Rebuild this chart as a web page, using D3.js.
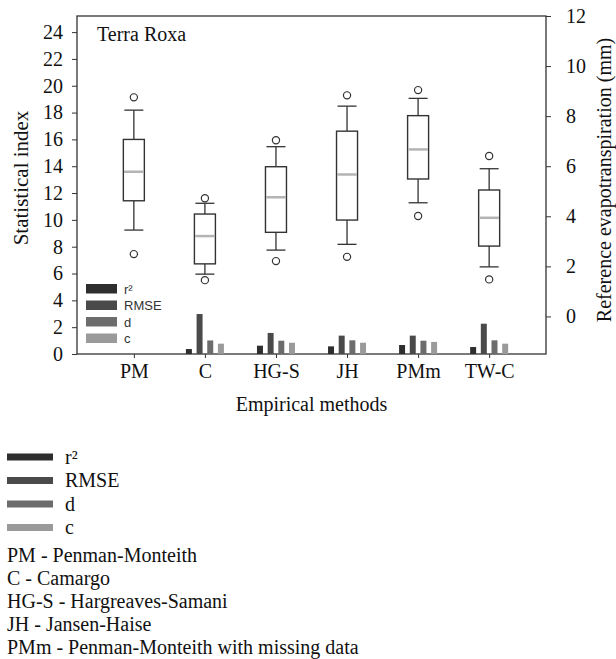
<!DOCTYPE html>
<html>
<head>
<meta charset="utf-8">
<script src="https://cdn.jsdelivr.net/npm/d3@7"></script>
<style>
  body { margin: 0; background: #fff; }
  svg text { font-family: "Liberation Serif", "Times New Roman", serif; fill: #111; }
  .axis path { display: none; }
  .axis line { stroke: #333; }
  .axis text { font-size: 20px; font-family: "Liberation Serif", serif; fill: #111; }
</style>
</head>
<body>
<div id="chart"></div>
<script>
// categories
var methods = ["PM", "C", "HG-S", "JH", "PMm", "TW-C"];
var methodNames = [
  "PM - Penman-Monteith",
  "C - Camargo",
  "HG-S - Hargreaves-Samani",
  "JH - Jansen-Haise",
  "PMm - Penman-Monteith with missing data"
];

// box plot values (reference evapotranspiration, mm)
var outlierLow  = [2.49, 1.45, 2.21, 2.38, 4.01, 1.48];
var whiskerLow  = [3.45, 1.69, 2.65, 2.88, 4.54, 1.98];
var q1          = [4.62, 2.10, 3.36, 3.85, 5.49, 2.81];
var median      = [5.78, 3.21, 4.76, 5.67, 6.67, 3.94];
var q3          = [7.07, 4.09, 5.98, 7.40, 8.02, 5.05];
var whiskerHigh = [8.24, 4.52, 6.78, 8.40, 8.71, 5.90];
var outlierHigh = [8.75, 4.72, 7.04, 8.83, 9.04, 6.41];

// statistical indices (PM is the reference, no bars)
var statKeys = ["r²", "RMSE", "d", "c"];
var r2   = [null, 0.37, 0.62, 0.57, 0.67, 0.52];
var rmse = [null, 2.98, 1.57, 1.37, 1.37, 2.26];
var dIdx = [null, 1.01, 0.99, 1.02, 0.99, 1.02];
var cIdx = [null, 0.77, 0.84, 0.84, 0.90, 0.77];
var statColors = ["#2e2e2e", "#4a4a4a", "#6c6c6c", "#9a9a9a"];

var leftTicks = d3.range(0, 25, 2);
var rightTicks = d3.range(0, 13, 2);

// svg container
var svgWidth = 616;
var svgHeight = 659;
var margin = { top: 16, right: 70, bottom: 305, left: 77 };
var width = svgWidth - margin.left - margin.right;
var height = 354 - margin.top;

var svg = d3.select("#chart")
  .append("svg")
  .attr("width", svgWidth)
  .attr("height", svgHeight);

var chartGroup = svg.append("g")
  .attr("transform", `translate(${margin.left}, ${margin.top})`);

// scales
var xScale = d3.scalePoint()
  .domain(methods)
  .range([0, width])
  .padding(0.8);

var yLeft = d3.scaleLinear().domain([0, 25.2]).range([height, 0]);
var yRight = d3.scaleLinear().domain([-1.5, 12]).range([height, 0]);

var barScale = d3.scaleBand()
  .domain(statKeys)
  .range([-19, 19])
  .paddingInner(0.44)
  .paddingOuter(0);

// axes
chartGroup.append("g")
  .attr("class", "axis")
  .call(d3.axisLeft(yLeft).tickValues(leftTicks).tickSize(5).tickPadding(9));

chartGroup.append("g")
  .attr("class", "axis")
  .attr("transform", `translate(${width}, 0)`)
  .call(d3.axisRight(yRight).tickValues(rightTicks).tickSize(5).tickPadding(15));

chartGroup.append("g")
  .attr("class", "axis")
  .attr("transform", `translate(0, ${height})`)
  .call(d3.axisBottom(xScale).tickSize(4).tickPadding(6));

// frame
chartGroup.append("rect")
  .attr("width", width)
  .attr("height", height)
  .attr("fill", "none")
  .attr("stroke", "#333")
  .attr("stroke-width", 1.3);

// stat bars
var statData = [r2, rmse, dIdx, cIdx];
methods.forEach(function(m, i) {
  statKeys.forEach(function(k, j) {
    var v = statData[j][i];
    if (v == null) return;
    chartGroup.append("rect")
      .attr("x", xScale(m) + barScale(k))
      .attr("y", yLeft(v))
      .attr("width", barScale.bandwidth())
      .attr("height", yLeft(0) - yLeft(v))
      .attr("fill", statColors[j]);
  });
});

// box plots
var boxW = 21;
var capW = 19;
var boxes = chartGroup.selectAll(".box")
  .data(methods)
  .enter()
  .append("g")
  .attr("transform", d => `translate(${xScale(d)}, 0)`);

boxes.append("line")
  .attr("y1", (d, i) => yRight(whiskerHigh[i]))
  .attr("y2", (d, i) => yRight(q3[i]))
  .attr("stroke", "#333").attr("stroke-width", 1.3);
boxes.append("line")
  .attr("y1", (d, i) => yRight(q1[i]))
  .attr("y2", (d, i) => yRight(whiskerLow[i]))
  .attr("stroke", "#333").attr("stroke-width", 1.3);
boxes.append("line")
  .attr("x1", -capW / 2).attr("x2", capW / 2)
  .attr("y1", (d, i) => yRight(whiskerHigh[i]))
  .attr("y2", (d, i) => yRight(whiskerHigh[i]))
  .attr("stroke", "#333").attr("stroke-width", 1.3);
boxes.append("line")
  .attr("x1", -capW / 2).attr("x2", capW / 2)
  .attr("y1", (d, i) => yRight(whiskerLow[i]))
  .attr("y2", (d, i) => yRight(whiskerLow[i]))
  .attr("stroke", "#333").attr("stroke-width", 1.3);
boxes.append("rect")
  .attr("x", -boxW / 2)
  .attr("width", boxW)
  .attr("y", (d, i) => yRight(q3[i]))
  .attr("height", (d, i) => yRight(q1[i]) - yRight(q3[i]))
  .attr("fill", "#fff")
  .attr("stroke", "#333").attr("stroke-width", 1.4);
boxes.append("line")
  .attr("x1", -boxW / 2 + 0.7).attr("x2", boxW / 2 - 0.7)
  .attr("y1", (d, i) => yRight(median[i]))
  .attr("y2", (d, i) => yRight(median[i]))
  .attr("stroke", "#b4b4b4").attr("stroke-width", 2.5);
boxes.append("circle")
  .attr("cy", (d, i) => yRight(outlierHigh[i]))
  .attr("r", 3.6)
  .attr("fill", "#fff").attr("stroke", "#333").attr("stroke-width", 1.2);
boxes.append("circle")
  .attr("cy", (d, i) => yRight(outlierLow[i]))
  .attr("r", 3.6)
  .attr("fill", "#fff").attr("stroke", "#333").attr("stroke-width", 1.2);

// panel title
chartGroup.append("text")
  .attr("x", 20)
  .attr("y", 25)
  .style("font-size", "20px")
  .text("Terra Roxa");

// inner legend
var innerLegend = chartGroup.append("g")
  .attr("transform", "translate(9, 268)");
statKeys.forEach(function(k, j) {
  innerLegend.append("rect")
    .attr("x", 0).attr("y", j * 16.5)
    .attr("width", 31).attr("height", 9.5)
    .attr("fill", statColors[j]);
  innerLegend.append("text")
    .attr("x", 38).attr("y", j * 16.5 + 9.5)
    .style("font-family", "'Liberation Sans', Arial, sans-serif")
    .style("font-size", "13px")
    .style("fill", "#333")
    .text(k);
});

// axis titles
svg.append("text")
  .attr("transform", "translate(28, 178) rotate(-90)")
  .attr("text-anchor", "middle")
  .style("font-size", "21px")
  .text("Statistical index");

svg.append("text")
  .attr("transform", "translate(611, 180) rotate(-90)")
  .attr("text-anchor", "middle")
  .style("font-size", "20px")
  .text("Reference evapotranspiration (mm)");

svg.append("text")
  .attr("x", margin.left + width / 2)
  .attr("y", 411)
  .attr("text-anchor", "middle")
  .style("font-size", "20px")
  .text("Empirical methods");

// outer legend
var outerLegend = svg.append("g");
statKeys.forEach(function(k, j) {
  var cy = 457 + j * 23.5;
  outerLegend.append("rect")
    .attr("x", 7).attr("y", cy - 3.5)
    .attr("width", 46).attr("height", 7)
    .attr("fill", statColors[j]);
  outerLegend.append("text")
    .attr("x", 65).attr("y", cy + 6.5)
    .style("font-size", "20px")
    .text(k);
});

methodNames.forEach(function(t, i) {
  outerLegend.append("text")
    .attr("x", 7)
    .attr("y", 562 + i * 23.1)
    .style("font-size", "20px")
    .text(t);
});
</script>
</body>
</html>
